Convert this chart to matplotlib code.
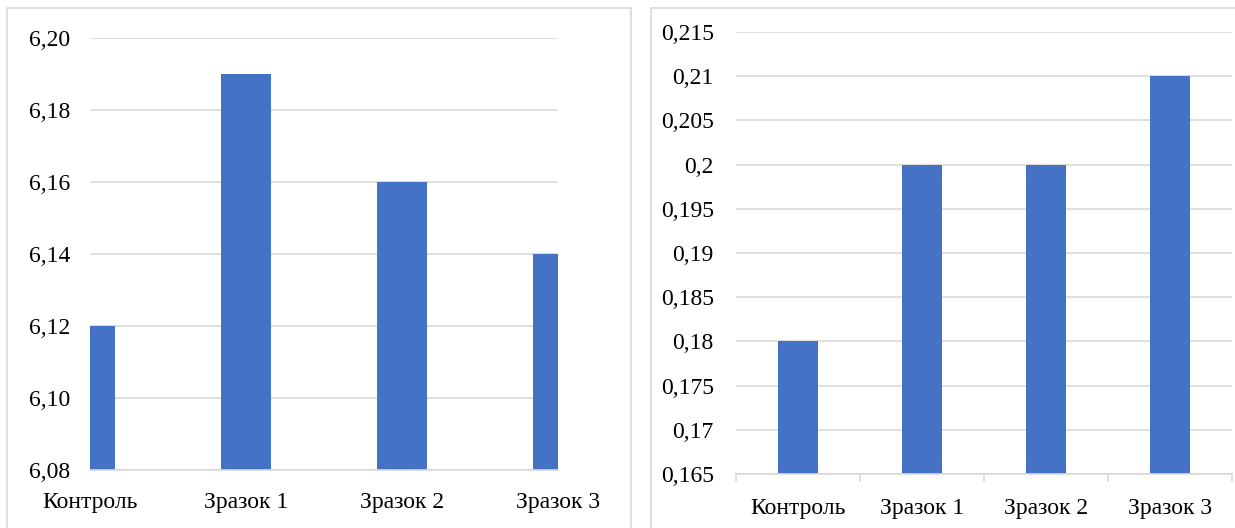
import numpy as np
import matplotlib
matplotlib.use('Agg')
import matplotlib.pyplot as plt
from matplotlib.patches import Rectangle
from matplotlib.ticker import FuncFormatter

plt.rcParams['font.family'] = ['Liberation Serif', 'DejaVu Serif']

# Data
categories = ['Контроль', 'Зразок 1', 'Зразок 2', 'Зразок 3']
left_values = [6.12, 6.19, 6.16, 6.14]
right_values = [0.18, 0.20, 0.20, 0.21]
left_ticks = [6.08, 6.10, 6.12, 6.14, 6.16, 6.18, 6.20]
right_ticks = [0.165, 0.17, 0.175, 0.18, 0.185, 0.19, 0.195, 0.2, 0.205, 0.21, 0.215]

bar_color = '#4472c4'
grid_color = '#d9d9d9'
fs = 17

W, H = 1235, 528
fig = plt.figure(figsize=(W / 100, H / 100), dpi=100)

def px_axes(x0, y0, x1, y1):
    # pixel box (top-left origin) -> figure fraction
    return fig.add_axes([x0 / W, (H - y1) / H, (x1 - x0) / W, (y1 - y0) / H])

# panel borders
fig.patches.append(Rectangle((7 / W, -0.01), (631 - 7) / W, (H - 8) / H + 0.01,
                             transform=fig.transFigure, fill=False,
                             edgecolor=grid_color, linewidth=1.2))
fig.patches.append(Rectangle((651 / W, -0.01), (W - 651 + 10) / W, (H - 8) / H + 0.01,
                             transform=fig.transFigure, fill=False,
                             edgecolor=grid_color, linewidth=1.2))

# Left chart
ax1 = px_axes(90, 38, 558, 470)
x1 = np.arange(len(categories))
ax1.bar(x1, np.array(left_values) - left_ticks[0], bottom=left_ticks[0],
        width=0.32, color=bar_color, zorder=3)
ax1.set_xlim(0, 3)
ax1.set_ylim(left_ticks[0], left_ticks[-1])
ax1.set_yticks(left_ticks)
ax1.yaxis.set_major_formatter(FuncFormatter(lambda v, p: f'{v:.2f}'.replace('.', ',')))
ax1.set_xticks(x1)
ax1.set_xticklabels(categories)
ax1.tick_params(axis='x', length=0, pad=16, labelsize=fs)
ax1.tick_params(axis='y', length=0, pad=14, labelsize=fs)
ax1.grid(axis='y', color=grid_color, linewidth=1.2, zorder=0)
for s in ['top', 'right', 'left']:
    ax1.spines[s].set_visible(False)
ax1.spines['bottom'].set_color(grid_color)
ax1.spines['bottom'].set_linewidth(1.2)
ax1.spines['bottom'].set_zorder(4)

# Right chart
ax2 = px_axes(736, 32, 1232, 474)
x2 = np.arange(len(categories)) + 0.5
ax2.bar(x2, np.array(right_values) - right_ticks[0], bottom=right_ticks[0],
        width=0.32, color=bar_color, zorder=3)
ax2.set_xlim(0, len(categories))
ax2.set_ylim(right_ticks[0], right_ticks[-1])
ax2.set_yticks(right_ticks)
ax2.yaxis.set_major_formatter(FuncFormatter(lambda v, p: f'{round(v, 3):g}'.replace('.', ',')))
ax2.set_xticks(np.arange(len(categories) + 1))
ax2.set_xticklabels([])
ax2.set_xticks(x2, minor=True)
ax2.set_xticklabels(categories, minor=True)
ax2.tick_params(axis='x', which='major', length=6, width=1.2, color=grid_color)
ax2.tick_params(axis='x', which='minor', length=0, pad=17, labelsize=fs)
ax2.tick_params(axis='y', length=0, pad=16, labelsize=fs)
ax2.grid(axis='y', which='major', color=grid_color, linewidth=1.2, zorder=0)
for s in ['top', 'right', 'left']:
    ax2.spines[s].set_visible(False)
ax2.spines['bottom'].set_color(grid_color)
ax2.spines['bottom'].set_linewidth(1.2)
ax2.spines['bottom'].set_zorder(4)

fig.savefig('out.png', dpi=100)
